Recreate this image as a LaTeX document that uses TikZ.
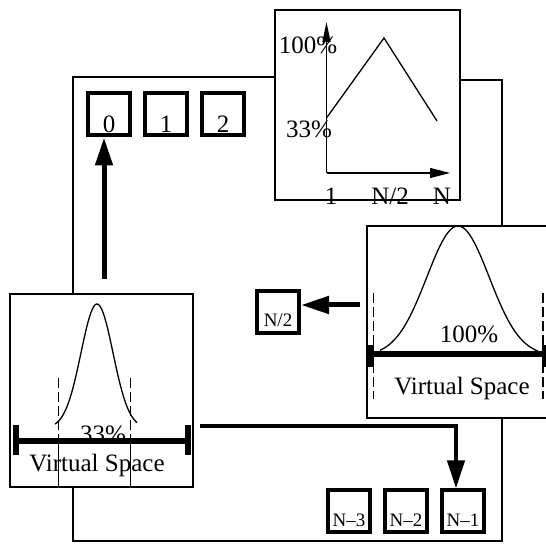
\documentclass[tikz,border=0pt]{standalone}
\usepackage{fontspec}
\setmainfont{Liberation Serif}
\usetikzlibrary{arrows.meta}

\begin{document}
\begin{tikzpicture}[x=0.5pt,y=-0.5pt,line width=0.65pt,font=\fontsize{12.5}{14}\selectfont,
    cell/.style={draw,line width=2pt,minimum size=21pt,inner sep=0pt,text height=18pt},
    ncell/.style={cell,font=\fontsize{9.5}{10}\selectfont,text height=15pt},
    frame/.style={draw,inner sep=0pt},
    big/.style={-{Triangle[length=14pt,width=8.5pt]},line width=2.5pt},
    bar/.style={line width=3pt},
    gap/.style={dash pattern=on 5pt off 2pt},
    node distance=28.5pt]
    \useasboundingbox (0,0) rectangle (546,544);

    % outer frame
    \draw (275,77) -- (73,77) -- (73,294);
    \draw (73,487) -- (73,541) -- (502,541) -- (502,418);
    \draw (502,226) -- (502,80) -- (460,80);

    % cells
    \node (c0) [cell] at (109,114.5) {0};
    \node (c1) [cell,right of=c0] {1};
    \node (c2) [cell,right of=c1] {2};

    \node (n3) [ncell] at (349,511.5) {N--3};
    \node (n2) [ncell,right of=n3] {N--2};
    \node (n1) [ncell,right of=n2] {N--1};

    \node (half) [ncell] at (278,312) {N/2};

    % load plot
    \node (plot) [frame,minimum width=92.5pt,minimum height=95pt] at (367.5,105) {};
    \draw[-{Triangle[length=10pt,width=4pt]}] (326.5,173) -- (326.5,22);
    \draw[-{Triangle[length=10pt,width=5pt]}] (326.5,173) -- (450,173);
    \draw (326.5,118) -- (384,38) -- (437,121);
    \node (top) at (308,45) {100\%};
    \node (low) at (309,129) {33\%};
    \node (first) at (331,196) {1};
    \node (mid) at (390,196) {N/2};
    \node (last) at (442,196) {N};

    % narrow virtual space
    \node (vsleft) [frame,minimum width=91.5pt,minimum height=96.5pt] at (101.5,390.5) {};
    \draw plot[domain=55:137,samples=60] (\x,{428-124*exp(-(\x-97)*(\x-97)/512)});
    \draw[gap] (58.5,378) -- (58.5,441);
    \draw[gap] (130.7,378) -- (130.7,441);
    \draw (58.5,441) -- (58.5,487);
    \draw (130.7,441) -- (130.7,487);
    \node (lpct) at (103,434) {33\%};
    \node (lname) at (97,465) {Virtual Space};
    \draw[bar] (16,441) -- (188,441);
    \draw[bar] (16,425) -- (16,455);
    \draw[bar] (188,425) -- (188,455);

    % wide virtual space
    \node (vsright) [frame,minimum width=91.5pt,minimum height=96pt] at (458.5,322) {};
    \draw plot[domain=380:538,samples=80] (\x,{356-130*exp(-(\x-458)*(\x-458)/1946)});
    \draw[gap] (373.5,293) -- (373.5,399);
    \draw[gap] (543,293) -- (543,399);
    \node (rpct) at (469,334) {100\%};
    \node (rname) at (462,388) {Virtual Space};
    \draw[bar] (371,354) -- (546,354);
    \draw[bar] (371,345) -- (371,367);
    \draw[bar] (545,345) -- (545,367);

    % moves
    \coordinate (from0) at (104,279);
    \coordinate (fromhalf) at (360,305);
    \coordinate (fromlast) at (200,426);
    \draw[big] (from0) -- (from0 |- c0.south);
    \draw[big] (fromhalf) -- (fromhalf -| half.east);
    \draw[big,line width=2pt] (fromlast) -| ([xshift=-3.5pt]n1.north);
\end{tikzpicture}
\end{document}
